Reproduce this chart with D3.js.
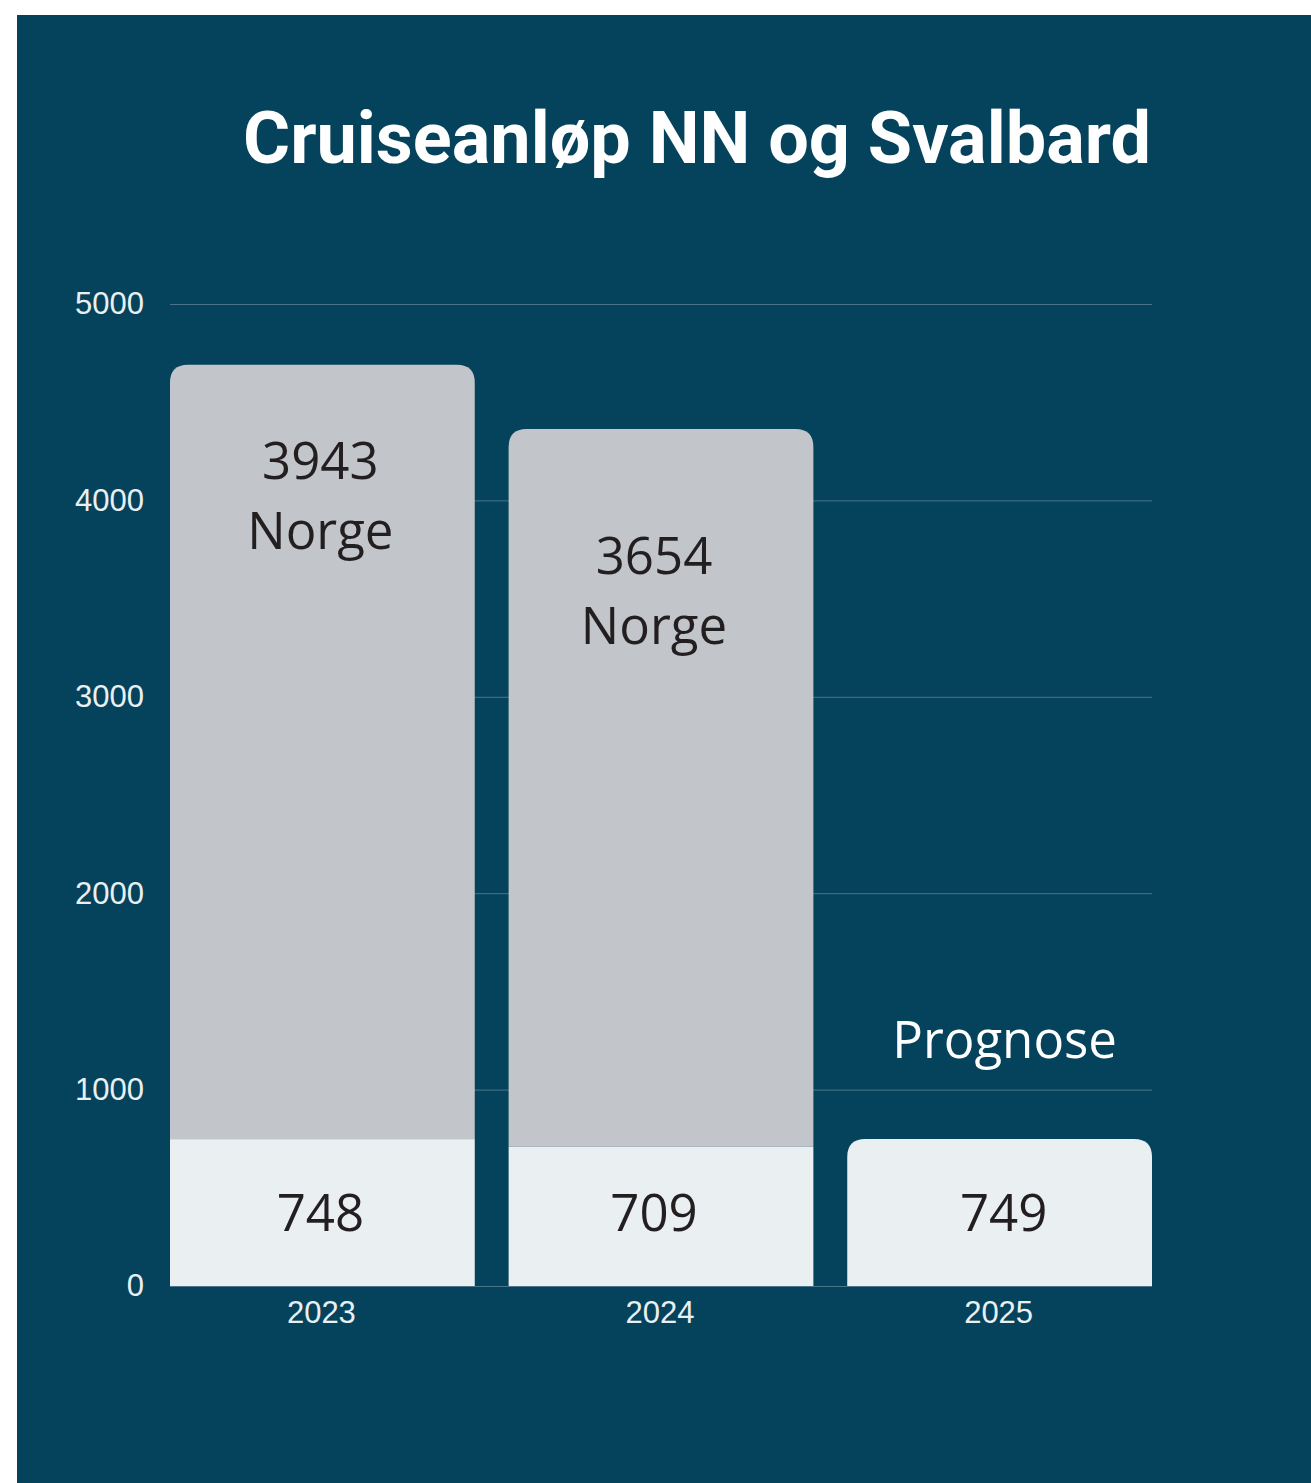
<!DOCTYPE html>
<html lang="no">
<head>
<meta charset="UTF-8">
<title>Cruiseanløp NN og Svalbard</title>
<script src="https://d3js.org/d3.v7.min.js"></script>
<style>
  body { margin: 0; background: #fff; }
  svg { display: block; }
</style>
</head>
<body>
<svg id="chart" width="1311" height="1483"></svg>
<script>
// data
const years = ["2023", "2024", "2025"];
const nnSvalbard = [748, 709, 749];
const norge = [3943, 3654, null];
const yTicks = [0, 1000, 2000, 3000, 4000, 5000];
const prognoseYear = "2025";

const W = 1311, H = 1483;
const svg = d3.select("#chart");

// background panel
svg.append("rect")
  .attr("x", 17).attr("y", 15)
  .attr("width", W - 17).attr("height", H - 15)
  .attr("fill", "#05435C");

svg.append("text")
  .attr("x", 697).attr("y", 163)
  .attr("text-anchor", "middle")
  .attr("font-family", "Roboto")
  .attr("font-weight", 700)
  .attr("font-size", 72)
  .attr("fill", "#ffffff")
  .text("Cruiseanløp NN og Svalbard");

const x = d3.scaleBand().domain(years).range([170, 1152]).paddingInner(0.1).paddingOuter(0);
const y = d3.scaleLinear().domain([0, 5000]).range([1286, 304]);

// gridlines
svg.append("g").selectAll("line").data(yTicks).join("line")
  .attr("x1", 170).attr("x2", 1152)
  .attr("y1", d => y(d) + 0.5).attr("y2", d => y(d) + 0.5)
  .attr("stroke", "#4A7489").attr("stroke-width", 1);

const yAxis = svg.append("g")
  .attr("transform", "translate(150,0)")
  .call(d3.axisLeft(y).tickValues(yTicks).tickFormat(d3.format("d")).tickSize(0).tickPadding(6));
yAxis.select(".domain").remove();
yAxis.selectAll("text")
  .attr("font-family", "Liberation Sans, Arial, sans-serif")
  .attr("font-size", 31)
  .attr("fill", "#EAF0F2");

const xAxis = svg.append("g")
  .attr("transform", "translate(0,1286)")
  .call(d3.axisBottom(x).tickSize(0).tickPadding(15));
xAxis.select(".domain").remove();
xAxis.selectAll("text")
  .attr("font-family", "Liberation Sans, Arial, sans-serif")
  .attr("font-size", 31)
  .attr("fill", "#EAF0F2")
  .attr("dx", -1)
  .attr("dy", "0.71em");

const r = 18;
function topRounded(x0, y0, w, h) {
  return `M${x0},${y0 + h} V${y0 + r} Q${x0},${y0} ${x0 + r},${y0} H${x0 + w - r} Q${x0 + w},${y0} ${x0 + w},${y0 + r} V${y0 + h} Z`;
}

const bars = svg.append("g");
years.forEach((yr, i) => {
  const bx = x(yr), bw = x.bandwidth();
  const base = nnSvalbard[i];
  const top = norge[i];
  if (top != null) {
    bars.append("path")
      .attr("d", topRounded(bx, y(base + top), bw, y(base) - y(base + top)))
      .attr("fill", "#C2C5CA");
    bars.append("rect")
      .attr("x", bx).attr("y", y(base))
      .attr("width", bw).attr("height", y(0) - y(base))
      .attr("fill", "#EAEFF1");
  } else {
    bars.append("path")
      .attr("d", topRounded(bx, y(base), bw, y(0) - y(base)))
      .attr("fill", "#EAEFF1");
  }
});

const labelFont = "Open Sans, sans-serif";
const topOffsets = [94, 125, 0];
const xShift = [-2, -7, 4];
years.forEach((yr, i) => {
  const cx = x(yr) + x.bandwidth() / 2 + xShift[i];
  svg.append("text")
    .attr("x", cx).attr("y", y(0) - 75)
    .attr("text-anchor", "middle").attr("dominant-baseline", "central")
    .attr("font-family", labelFont).attr("font-size", 51)
    .attr("fill", "#231F20")
    .text(nnSvalbard[i]);
  if (norge[i] != null) {
    const ty = y(nnSvalbard[i] + norge[i]) + topOffsets[i];
    const t = svg.append("text")
      .attr("text-anchor", "middle")
      .attr("font-family", labelFont).attr("font-size", 51)
      .attr("fill", "#231F20");
    t.append("tspan").attr("x", cx).attr("y", ty).attr("dominant-baseline", "central").text(norge[i]);
    t.append("tspan").attr("x", cx).attr("y", ty + 70).attr("dominant-baseline", "central").text("Norge");
  }
});

svg.append("text")
  .attr("x", x(prognoseYear) + x.bandwidth() / 2 + 5)
  .attr("y", y(nnSvalbard[2]) - 101)
  .attr("text-anchor", "middle").attr("dominant-baseline", "central")
  .attr("font-family", labelFont).attr("font-size", 51)
  .attr("fill", "#ffffff")
  .text("Prognose");
</script>
</body>
</html>
